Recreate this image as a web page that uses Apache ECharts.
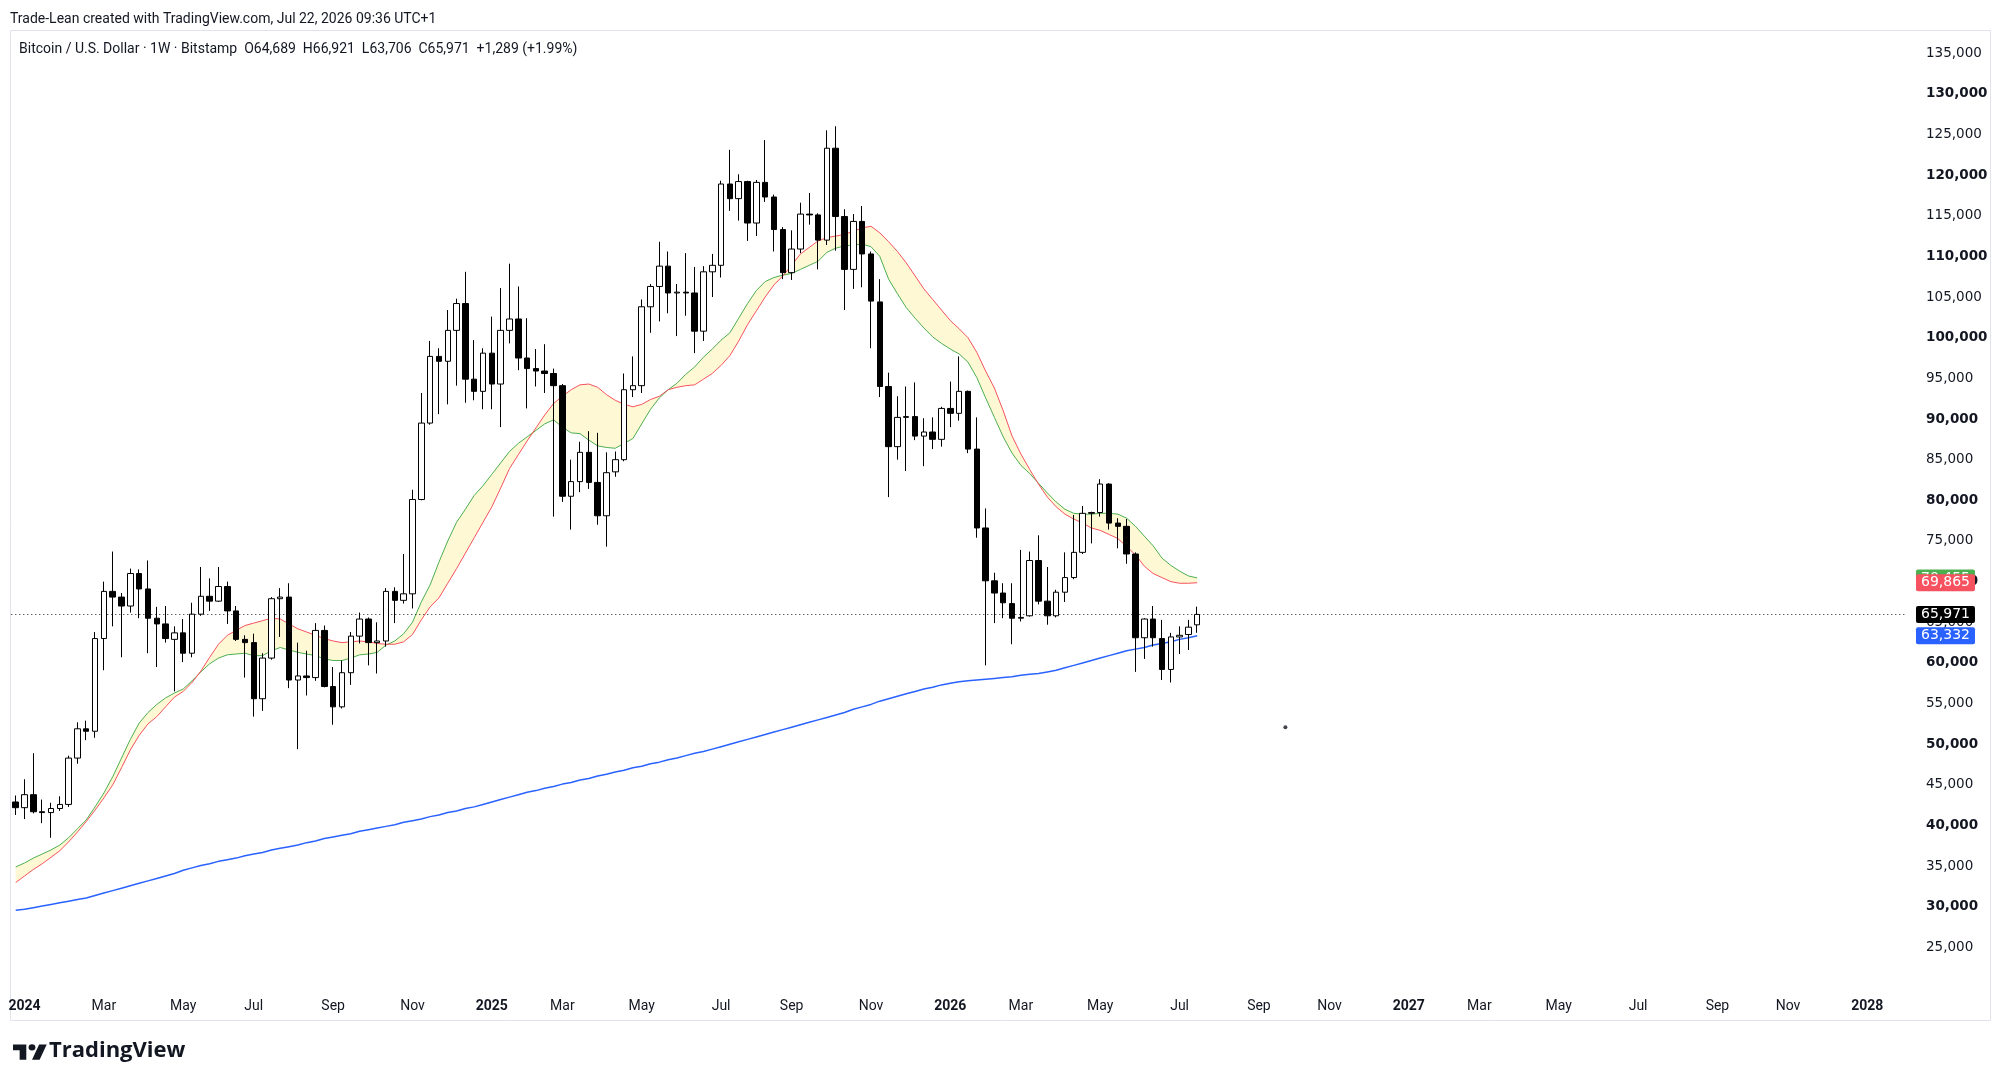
<!DOCTYPE html>
<html>
<head>
<meta charset="utf-8">
<title>Bitcoin / U.S. Dollar - 1W - Bitstamp</title>
<script src="https://cdn.jsdelivr.net/npm/echarts@6/dist/echarts.min.js"></script>
<style>
html, body { margin: 0; padding: 0; background: #ffffff; }
#chart { width: 2000px; height: 1086px; }
</style>
</head>
<body>
<div id="chart"></div>
<script>
// weekly bars, the first one is the week of 2023-12-25
var firstWeek = Date.UTC(2023, 11, 25);
var weekCount = 215; // bars plus the empty space up to early 2028
var monthNames = ['Jan', 'Feb', 'Mar', 'Apr', 'May', 'Jun', 'Jul', 'Aug', 'Sep', 'Oct', 'Nov', 'Dec'];

// price scale
var priceMin = 20000;
var priceMax = 138000;
var priceStep = 5000;

var openPrices = [
	42900, 42200, 43800, 41700, 41600, 42100, 42600, 48300, 51900, 51600,
	63000, 68800, 68100, 67000, 71000, 69100, 65500, 64800, 62900, 63700,
	61200, 66000, 68200, 67600, 69400, 66400, 62900, 62500, 55600, 60600,
	67900, 68100, 57900, 58400, 58200, 64000, 57100, 54600, 58800, 63300,
	65400, 62500, 62700, 68800, 67700, 68500, 80100, 89500, 97700, 97100,
	100900, 104200, 94900, 93400, 98100, 94300, 100900, 102300, 97500, 96200,
	95900, 95600, 94100, 80500, 82300, 85900, 82200, 78100, 83500, 85000,
	93600, 94100, 103800, 106300, 108800, 105500, 105600, 105500, 100800, 108100,
	108900, 118900, 117100, 119200, 114100, 119100, 117300, 113300, 108000, 110900,
	115200, 115100, 112000, 123300, 114900, 108400, 114300, 110300, 104400, 94000,
	86600, 90200, 90300, 87900, 88400, 87500, 91300, 90700, 93400, 86300,
	76600, 70100, 68600, 67300, 65500, 65800, 72600, 67600, 65800, 68700,
	70500, 73600, 78400, 78500, 82000, 77200, 76800, 73400, 63100, 65400,
	63000, 59200, 63200, 63500, 64689
];
var highPrices = [
	43700, 45700, 48900, 43200, 42800, 43600, 48600, 52700, 52900, 63800,
	70000, 73700, 68600, 71600, 71500, 72600, 66900, 67000, 64500, 65400,
	67400, 71800, 70400, 71800, 70000, 67000, 63400, 63600, 61200, 68100,
	69200, 69800, 62500, 61500, 64900, 64600, 59500, 60300, 63800, 66200,
	65600, 65000, 69200, 69300, 73400, 81300, 93200, 99600, 98700, 103400,
	104800, 108100, 99700, 98700, 102600, 106100, 109100, 106300, 102400, 98600,
	99200, 96200, 94300, 85000, 87200, 88500, 88300, 85900, 86000, 95600,
	97700, 104700, 106600, 111800, 110600, 106600, 110400, 108700, 108800, 110300,
	119300, 123100, 120100, 119300, 119400, 124300, 117600, 113600, 113200, 116600,
	117800, 115300, 125500, 126000, 115800, 115200, 116200, 110600, 107200, 95700,
	92800, 94000, 94500, 90100, 90200, 91500, 94600, 97700, 93500, 90200,
	79000, 71100, 69800, 69800, 73900, 73700, 75700, 71800, 69000, 73600,
	78200, 79300, 78600, 82600, 82100, 77800, 77700, 73600, 65500, 67000,
	65300, 63700, 64500, 65300, 66921
];
var lowPrices = [
	41300, 40800, 41500, 40300, 38500, 41800, 42300, 47600, 50500, 50800,
	59100, 64500, 60700, 66200, 65500, 61200, 59500, 62500, 56500, 60100,
	60700, 65800, 66400, 67500, 64800, 62700, 58200, 53400, 54100, 60400,
	63200, 56900, 49400, 56000, 57800, 57000, 52400, 54400, 57300, 62400,
	59700, 58700, 62000, 64900, 67300, 66700, 80000, 89300, 90600, 91800,
	94100, 92000, 92300, 91200, 91200, 89000, 99300, 96000, 91300, 94000,
	93200, 78000, 79800, 76400, 81000, 81400, 77000, 74300, 82900, 84800,
	92700, 93200, 100600, 102000, 103000, 100200, 102700, 98100, 99600, 105000,
	107400, 115600, 114400, 111900, 112500, 116700, 110600, 107200, 107100, 110400,
	113900, 108400, 111400, 110700, 103400, 106000, 106200, 98700, 92700, 80400,
	85000, 83600, 87400, 84200, 86300, 86600, 89000, 89800, 85800, 75400,
	59700, 64900, 65500, 62300, 65100, 65700, 67200, 64700, 65600, 67500,
	70300, 73400, 74700, 78000, 76400, 74100, 72200, 58900, 60500, 62000,
	57900, 57600, 61100, 61600, 63706
];
var closePrices = [
	42200, 43800, 41700, 41600, 42100, 42600, 48300, 51900, 51600, 63000,
	68800, 68100, 67000, 71000, 69100, 65500, 64800, 63000, 63700, 61200,
	66000, 68200, 67600, 69400, 66400, 62900, 62500, 55600, 60600, 67900,
	68100, 57900, 58400, 58200, 64000, 57100, 54600, 58800, 63300, 65400,
	62500, 62700, 68800, 67700, 68500, 80100, 89500, 97700, 97100, 100900,
	104200, 94900, 93400, 98100, 94300, 100900, 102300, 97500, 96200, 95900,
	95600, 94100, 80500, 82300, 85900, 82200, 78100, 83400, 85000, 93600,
	94100, 103800, 106300, 108800, 105500, 105600, 105500, 100800, 108100, 108900,
	118900, 117100, 119200, 114100, 119100, 117300, 113300, 108000, 110900, 115200,
	115100, 112000, 123300, 114900, 108400, 114300, 110300, 104500, 94000, 86600,
	90200, 90300, 87900, 88400, 87500, 91300, 90700, 93400, 86300, 76600,
	70100, 68600, 67400, 65500, 65600, 72600, 67600, 65800, 68700, 70500,
	73600, 78400, 78500, 82000, 77200, 76800, 73400, 63100, 65400, 63100,
	59200, 63200, 63400, 64400, 65971
];

// bull market support band: red 20W SMA, green 21W EMA
var sma20 = [
	33000, 33800, 34600, 35300, 36100, 36900, 38000, 39200, 40500, 41900,
	43400, 45000, 47100, 49300, 51100, 52500, 53400, 54600, 55800, 56500,
	57600, 59000, 60700, 62300, 63400, 64000, 64600, 64900, 65200, 65500,
	65400, 64800, 64200, 63800, 63400, 63000, 62700, 62500, 62600, 62700,
	62600, 62400, 62300, 62300, 62600, 63500, 65300, 66900, 68000, 69800,
	71600, 73500, 75400, 77300, 79200, 81500, 83900, 85600, 87300, 88900,
	90500, 91900, 92800, 93600, 94200, 94300, 93900, 93000, 92300, 91800,
	91500, 91800, 92400, 92800, 93600, 93900, 94100, 94200, 94900, 95600,
	96600, 97800, 99600, 101600, 103300, 105000, 106500, 107600, 108900, 110300,
	111100, 111900, 112300, 112500, 112700, 113100, 113500, 113700, 112900, 111800,
	110600, 109200, 107600, 106000, 104700, 103400, 102100, 101100, 100000, 98200,
	95900, 93800, 91000, 87900, 85700, 83800, 82000, 80400, 79200, 78300,
	77700, 77200, 76600, 76300, 75800, 75300, 74300, 73300, 71900, 71000,
	70500, 70000, 69800, 69800, 69865
];
var ema21 = [
	34900, 35400, 36000, 36500, 37000, 37600, 38500, 39600, 40700, 42300,
	44000, 46000, 48300, 50600, 52600, 53900, 54900, 55700, 56300, 56800,
	57800, 58900, 59900, 60600, 61000, 61100, 61200, 60900, 60900, 61500,
	61900, 61600, 61300, 61100, 60900, 60500, 60300, 60300, 60600, 61000,
	61100, 61300, 62200, 62700, 63600, 65000, 67500, 69600, 72400, 75000,
	77300, 78900, 80600, 81800, 83200, 84600, 86000, 87000, 87800, 88600,
	89400, 89900, 89000, 88300, 88200, 87400, 86700, 86500, 86400, 87000,
	87600, 89400, 91200, 92600, 93600, 94400, 95500, 96400, 97600, 98600,
	99700, 100600, 102400, 104200, 105800, 106900, 107400, 107700, 107900, 108400,
	108900, 109400, 110500, 111000, 111300, 111400, 111500, 111200, 110000, 107200,
	105400, 103700, 102400, 101200, 100100, 99300, 98600, 98000, 97000, 95100,
	92600, 90200, 87800, 85800, 84300, 83300, 82100, 80900, 79800, 78900,
	78400, 78300, 78300, 78400, 78400, 78300, 77800, 76800, 75600, 74400,
	72900, 72000, 71300, 70700, 70455
];
// 200W SMA (blue)
var sma200 = [
	29600, 29700, 29900, 30100, 30300, 30500, 30700, 30900, 31100, 31400,
	31700, 32000, 32300, 32600, 32900, 33200, 33500, 33800, 34100, 34500,
	34800, 35100, 35300, 35600, 35800, 36000, 36300, 36500, 36700, 37000,
	37200, 37400, 37600, 37900, 38100, 38400, 38600, 38800, 39000, 39300,
	39500, 39700, 39900, 40100, 40400, 40600, 40800, 41100, 41300, 41600,
	41800, 42100, 42300, 42600, 42900, 43200, 43500, 43800, 44100, 44300,
	44600, 44800, 45100, 45300, 45600, 45800, 46100, 46300, 46600, 46800,
	47100, 47300, 47600, 47800, 48100, 48300, 48600, 48900, 49100, 49400,
	49700, 50000, 50300, 50600, 50900, 51200, 51500, 51800, 52100, 52400,
	52700, 53000, 53300, 53600, 53900, 54300, 54600, 54900, 55300, 55600,
	55900, 56200, 56500, 56800, 57000, 57300, 57500, 57700, 57800, 57900,
	58000, 58100, 58200, 58300, 58500, 58600, 58700, 58900, 59100, 59400,
	59700, 60000, 60300, 60600, 60900, 61200, 61500, 61700, 61900, 62200,
	62400, 62600, 62900, 63100, 63332
];

// stray dot drawn on the chart
var dotWeek = '2026-09-28';
var dotPrice = 52100;

var weeks = [];
for (var i = 0; i < weekCount; i++) {
	weeks.push(new Date(firstWeek + i * 7 * 86400000).toISOString().slice(0, 10));
}

function fmt(v) {
	return String(v).replace(/\B(?=(\d{3})+(?!\d))/g, ',');
}

// a time label goes on the first bar of every odd month
function showWeekLabel(i) {
	if (i === 0) return false;
	var m = +weeks[i].slice(5, 7);
	return m !== +weeks[i - 1].slice(5, 7) && m % 2 === 1;
}

var candles = openPrices.map(function (o, i) {
	return [o, closePrices[i], lowPrices[i], highPrices[i]];
});
var bandBase = sma20.map(function (r, i) {
	return Math.min(r, ema21[i]);
});
var bandWidth = sma20.map(function (r, i) {
	return Math.abs(r - ema21[i]);
});

var last = closePrices.length - 1;

function priceTag(value, bg) {
	return {
		symbol: 'none',
		silent: true,
		animation: false,
		lineStyle: { color: 'transparent' },
		label: {
			show: true,
			position: 'end',
			distance: 9,
			formatter: function () { return fmt(value); },
			backgroundColor: bg,
			color: '#ffffff',
			fontFamily: 'DejaVu Sans',
			fontSize: 14,
			lineHeight: 15,
			padding: [1, 5, 1, 5],
			borderRadius: 2
		},
		data: [{ yAxis: value }]
	};
}

var chart = echarts.init(document.getElementById('chart'));

var option = {
	backgroundColor: '#ffffff',
	animation: false,
	textStyle: { fontFamily: 'Roboto' },
	grid: { left: 11.3, right: 93, top: 28.7, bottom: 97.8, containLabel: false },
	xAxis: {
		type: 'category',
		data: weeks,
		boundaryGap: true,
		axisLine: { show: false },
		axisTick: { show: false },
		splitLine: { show: false },
		axisLabel: {
			interval: showWeekLabel,
			hideOverlap: false,
			margin: 11,
			fontFamily: 'Roboto',
			fontSize: 14,
			color: '#131722',
			formatter: function (v) {
				var m = +v.slice(5, 7);
				return m === 1 ? '{y|' + v.slice(0, 4) + '}' : monthNames[m - 1];
			},
			rich: {
				y: { fontFamily: 'Roboto', fontSize: 14, fontWeight: 'bold', color: '#131722' }
			}
		}
	},
	yAxis: {
		type: 'value',
		position: 'right',
		min: priceMin,
		max: priceMax,
		interval: priceStep,
		axisLine: { show: false },
		axisTick: { show: false },
		splitLine: { show: false },
		axisLabel: {
			margin: 19,
			fontFamily: 'DejaVu Sans',
			fontSize: 13.5,
			color: '#131722',
			formatter: function (v) {
				if (v < 25000 || v % 5000 !== 0) return '';
				return v % 10000 === 0 ? '{b|' + fmt(v) + '}' : fmt(v);
			},
			rich: {
				b: { fontFamily: 'DejaVu Sans', fontSize: 13.5, fontWeight: 'bold', color: '#131722' }
			}
		}
	},
	series: [
		{
			name: 'bandBase',
			type: 'line',
			stack: 'band',
			data: bandBase,
			showSymbol: false,
			silent: true,
			lineStyle: { opacity: 0 },
			z: 1
		},
		{
			name: 'band',
			type: 'line',
			stack: 'band',
			data: bandWidth,
			showSymbol: false,
			silent: true,
			lineStyle: { opacity: 0 },
			areaStyle: { color: '#fff8d4', opacity: 1 },
			z: 1
		},
		{
			name: 'EMA 21',
			type: 'line',
			data: ema21,
			showSymbol: false,
			clip: false,
			lineStyle: { color: '#4caf50', width: 1 },
			markLine: priceTag(ema21[last], '#4caf50'),
			z: 3
		},
		{
			name: 'SMA 20',
			type: 'line',
			data: sma20,
			showSymbol: false,
			clip: false,
			lineStyle: { color: '#f7525f', width: 1 },
			markLine: priceTag(sma20[last], '#f7525f'),
			z: 4
		},
		{
			name: 'SMA 200',
			type: 'line',
			data: sma200,
			showSymbol: false,
			clip: false,
			lineStyle: { color: '#2962ff', width: 1.5 },
			markLine: priceTag(sma200[last], '#2962ff'),
			z: 5
		},
		{
			name: 'BTCUSD',
			type: 'candlestick',
			data: candles,
			barWidth: 6,
			clip: false,
			itemStyle: {
				color: '#ffffff',
				color0: '#000000',
				borderColor: '#000000',
				borderColor0: '#000000',
				borderWidth: 1
			},
			markLine: {
				symbol: 'none',
				silent: true,
				animation: false,
				lineStyle: { color: '#131722', type: [1, 3], width: 1 },
				label: {
					show: true,
					position: 'end',
					distance: 9,
					formatter: function () { return fmt(closePrices[last]); },
					backgroundColor: '#000000',
					color: '#ffffff',
					fontFamily: 'DejaVu Sans',
					fontSize: 14,
					lineHeight: 15,
					padding: [1, 5, 1, 5],
					borderRadius: 2
				},
				data: [{ yAxis: closePrices[last] }]
			},
			z: 6
		},
		{
			name: 'dot',
			type: 'scatter',
			data: [[dotWeek, dotPrice]],
			symbolSize: 4,
			itemStyle: { color: '#131722' },
			silent: true,
			z: 6
		}
	],
	graphic: [
		{
			type: 'rect',
			shape: { x: 10.5, y: 30.5, width: 1980, height: 990 },
			style: { fill: 'none', stroke: '#e0e3eb', lineWidth: 1 },
			silent: true,
			z: -1
		},
		{
			type: 'text',
			left: 10,
			top: 12,
			style: {
				text: 'Trade-Lean created with TradingView.com, Jul 22, 2026 09:36 UTC+1',
				font: '14px Roboto',
				fill: '#131722'
			}
		},
		{
			type: 'text',
			left: 19,
			top: 42,
			style: {
				text: 'Bitcoin / U.S. Dollar \u00b7 1W \u00b7 Bitstamp  O64,689  H66,921  L63,706  C65,971  +1,289 (+1.99%)',
				font: '14px Roboto',
				fill: '#131722'
			}
		},
		// TradingView logo
		{
			type: 'group',
			x: 13,
			y: 1041,
			scaleX: 0.95,
			scaleY: 0.85,
			children: [
				{ type: 'polygon', shape: { points: [[0, 4], [14, 4], [14, 22], [7, 22], [7, 11], [0, 11]] }, style: { fill: '#131722' } },
				{ type: 'circle', shape: { cx: 20, cy: 7.5, r: 3.6 }, style: { fill: '#131722' } },
				{ type: 'polygon', shape: { points: [[27.5, 4], [35.5, 4], [28, 22], [20, 22]] }, style: { fill: '#131722' } }
			]
		},
		{
			type: 'text',
			left: 49,
			top: 1040,
			style: {
				text: 'TradingView',
				font: 'bold 22px "Open Sans"',
				fill: '#131722'
			}
		}
	]
};

chart.setOption(option);
</script>
</body>
</html>
